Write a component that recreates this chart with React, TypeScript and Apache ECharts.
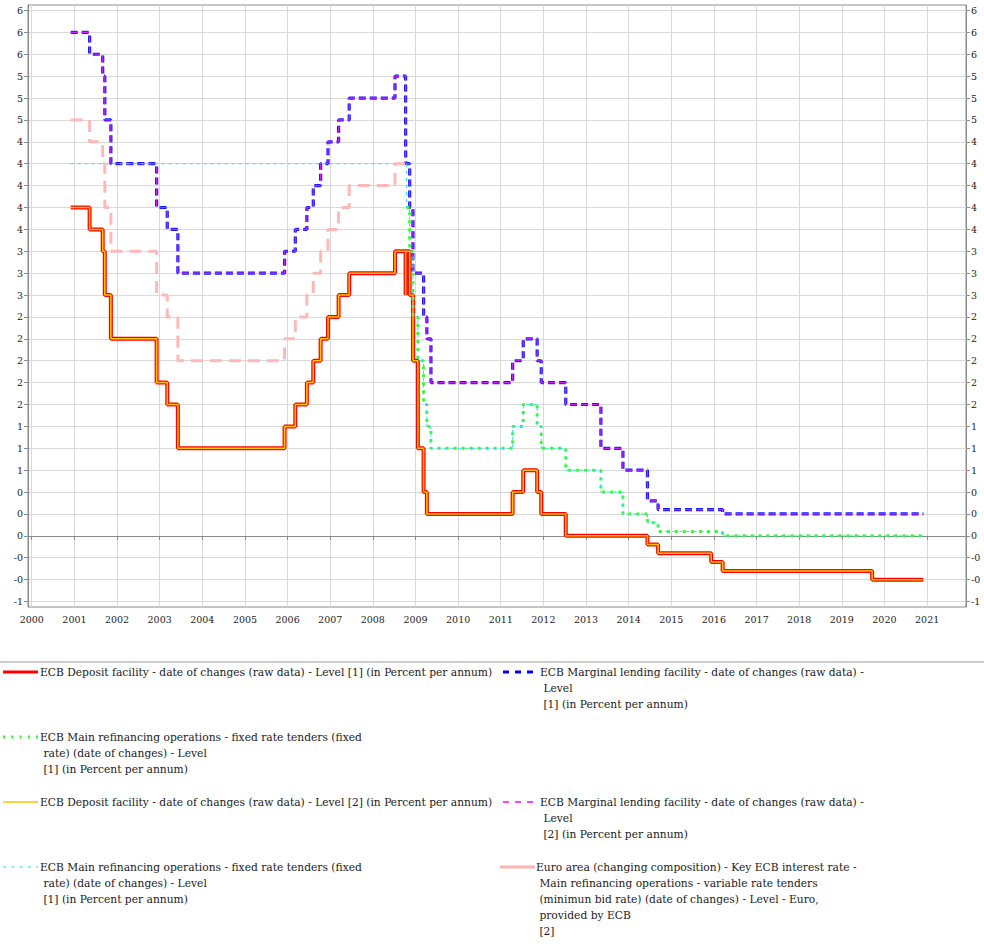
import { useEffect, useRef } from 'react';
import * as echarts from 'echarts';

// ---- Data (dates of changes, percent per annum) ----
const DEPOSIT_DATES = [
  '2000-11-30', '2001-05-11', '2001-08-31', '2001-09-18', '2001-11-09', '2002-12-06', '2003-03-07',
  '2003-06-06', '2005-12-06', '2006-03-08', '2006-06-15', '2006-08-09', '2006-10-11', '2006-12-13',
  '2007-03-14', '2007-06-13', '2008-07-09', '2008-10-08', '2008-10-09', '2008-11-12', '2008-12-10',
  '2009-01-21', '2009-03-11', '2009-04-08', '2011-04-13', '2011-07-13', '2011-11-09', '2011-12-14',
  '2012-07-11', '2014-06-11', '2014-09-10', '2015-12-09', '2016-03-16', '2019-09-18', '2020-11-30',
];
const DEPOSIT_RATES = [
  3.75, 3.5, 3.25, 2.75, 2.25, 1.75, 1.5,
  1.0, 1.25, 1.5, 1.75, 2.0, 2.25, 2.5,
  2.75, 3.0, 3.25, 2.75, 3.25, 2.75, 2.0,
  1.0, 0.5, 0.25, 0.5, 0.75, 0.5, 0.25,
  0.0, -0.1, -0.2, -0.3, -0.4, -0.5, -0.5,
];

const MLF_DATES = [
  '2000-11-30', '2001-05-11', '2001-08-31', '2001-09-18', '2001-11-09', '2002-12-06', '2003-03-07',
  '2003-06-06', '2005-12-06', '2006-03-08', '2006-06-15', '2006-08-09', '2006-10-11', '2006-12-13',
  '2007-03-14', '2007-06-13', '2008-07-09', '2008-10-08', '2008-10-09', '2008-11-12', '2008-12-10',
  '2009-01-21', '2009-03-11', '2009-04-08', '2009-05-13', '2011-04-13', '2011-07-13', '2011-11-09',
  '2011-12-14', '2012-07-11', '2013-05-08', '2013-11-13', '2014-06-11', '2014-09-10', '2015-12-09',
  '2016-03-16', '2019-09-18', '2020-11-30',
];
const MLF_RATES = [
  5.75, 5.5, 5.25, 4.75, 4.25, 3.75, 3.5,
  3.0, 3.25, 3.5, 3.75, 4.0, 4.25, 4.5,
  4.75, 5.0, 5.25, 4.75, 4.25, 3.75, 3.0,
  3.0, 2.5, 2.25, 1.75, 2.0, 2.25, 2.0,
  1.75, 1.5, 1.0, 0.75, 0.4, 0.3, 0.3,
  0.25, 0.25, 0.25,
];

const MRO_FIXED_DATES = [
  '2008-10-15', '2008-11-12', '2008-12-10', '2009-01-21', '2009-03-11', '2009-04-08', '2009-05-13',
  '2011-04-13', '2011-07-13', '2011-11-09', '2011-12-14', '2012-07-11', '2013-05-08', '2013-11-13',
  '2014-06-11', '2014-09-10', '2016-03-16', '2020-11-30',
];
const MRO_FIXED_RATES = [
  3.75, 3.25, 2.5, 2.0, 1.5, 1.25, 1.0,
  1.25, 1.5, 1.25, 1.0, 0.75, 0.5, 0.25,
  0.15, 0.05, 0.0, 0.0,
];
// Level [2] of the fixed rate series carries the last fixed rate (June 2000) into the window
const MRO_FIXED_L2_START_DATES = ['2000-11-30'];
const MRO_FIXED_L2_START_RATES = [4.25];

const MRO_VARIABLE_DATES = [
  '2000-11-30', '2001-05-11', '2001-08-31', '2001-09-18', '2001-11-09', '2002-12-06', '2003-03-07',
  '2003-06-06', '2005-12-06', '2006-03-08', '2006-06-15', '2006-08-09', '2006-10-11', '2006-12-13',
  '2007-03-14', '2007-06-13', '2008-07-09', '2008-10-14',
];
const MRO_VARIABLE_RATES = [
  4.75, 4.5, 4.25, 3.75, 3.25, 2.75, 2.5,
  2.0, 2.25, 2.5, 2.75, 3.0, 3.25, 3.5,
  3.75, 4.0, 4.25, 4.25,
];

const YEAR_TICKS = [
  2000, 2001, 2002, 2003, 2004, 2005, 2006, 2007, 2008, 2009, 2010,
  2011, 2012, 2013, 2014, 2015, 2016, 2017, 2018, 2019, 2020, 2021,
];
const RATE_TICKS = [
  -0.75, -0.5, -0.25, 0, 0.25, 0.5, 0.75, 1, 1.25, 1.5, 1.75, 2, 2.25, 2.5,
  2.75, 3, 3.25, 3.5, 3.75, 4, 4.25, 4.5, 4.75, 5, 5.25, 5.5, 5.75, 6,
];
const X_MIN_DATE = '1999-11-30';
const X_MAX_DATE = '2021-11-30';
const Y_MIN = -0.8125;
const Y_MAX = 6.0625;

const LEGEND_NAMES = [
  'ECB Deposit facility - date of changes (raw data) - Level [1] (in Percent per annum)',
  'ECB Marginal lending facility - date of changes (raw data) -\n Level\n [1] (in Percent per annum)',
  'ECB Main refinancing operations - fixed rate tenders (fixed\n rate) (date of changes) - Level\n [1] (in Percent per annum)',
  'ECB Deposit facility - date of changes (raw data) - Level [2] (in Percent per annum)',
  'ECB Marginal lending facility - date of changes (raw data) -\n Level\n [2] (in Percent per annum)',
  'ECB Main refinancing operations - fixed rate tenders (fixed\n rate) (date of changes) - Level\n [1] (in Percent per annum)',
  'Euro area (changing composition) - Key ECB interest rate -\n Main refinancing operations - variable rate tenders\n (minimun bid rate) (date of changes) - Level - Euro,\n provided by ECB\n [2]',
];

const FONT = 'DejaVu Serif';

function ts(d: string): number {
  const [y, m, day] = d.split('-').map(Number);
  return Date.UTC(y, m - 1, day);
}
function pairs(dates: string[], rates: number[]): [number, number][] {
  return dates.map((d, i) => [ts(d), rates[i]]);
}
function roundHalfEven(x: number): number {
  const f = Math.floor(x);
  const d = x - f;
  if (d > 0.5) return f + 1;
  if (d < 0.5) return f;
  return f % 2 === 0 ? f : f + 1;
}
function fmtRate(v: number): string {
  const r = Math.abs(roundHalfEven(v));
  return (v < 0 ? '-' : '') + String(r);
}

export default function App() {
  const ref = useRef<HTMLDivElement>(null);

  useEffect(() => {
    if (!ref.current) return;
    const chart = echarts.init(ref.current, undefined, { renderer: 'svg' });

    const yearTs = YEAR_TICKS.map((y) => Date.UTC(y, 0, 1));

    const yAxisBase = {
      type: 'value',
      min: Y_MIN,
      max: Y_MAX,
      axisLine: { show: true, lineStyle: { color: '#8a8a8a', width: 1 } },
      axisTick: {
        show: true,
        length: 4,
        lineStyle: { color: '#8a8a8a' },
        customValues: RATE_TICKS,
      },
      axisLabel: {
        customValues: RATE_TICKS,
        formatter: (v: number) => fmtRate(v),
        color: '#222',
        fontFamily: FONT,
        fontSize: 9.5,
        margin: 5,
      },
    };

    const legendGraphics: any[] = [
      {
        type: 'line',
        shape: { x1: 0, y1: 662, x2: 984, y2: 662 },
        style: { stroke: '#9a9a9a', lineWidth: 1 },
      },
    ];
    const legendItems = [
      { x: 3, y: 672, tx: 40, line: { stroke: '#ff0000', lineWidth: 3 } },
      { x: 503, y: 672, tx: 540, line: { stroke: '#0000ff', lineWidth: 3, lineDash: [6, 6] } },
      { x: 3, y: 737, tx: 40, line: { stroke: '#22ff22', lineWidth: 3, lineDash: [2, 6.3] } },
      { x: 3, y: 802, tx: 40, line: { stroke: '#ffc400', lineWidth: 1.5 } },
      { x: 503, y: 802, tx: 540, line: { stroke: '#ff00ff', lineWidth: 1.5, lineDash: [6, 6] } },
      { x: 3, y: 867, tx: 40, line: { stroke: '#00e5ff', lineWidth: 1, lineDash: [3, 5.3] } },
      { x: 500, y: 867, tx: 536, line: { stroke: '#ffb3b3', lineWidth: 3 } },
    ];
    legendItems.forEach((it, i) => {
      legendGraphics.push({
        type: 'line',
        shape: { x1: it.x, y1: it.y, x2: it.x + 35, y2: it.y },
        style: { ...it.line, fill: null },
      });
      legendGraphics.push({
        type: 'text',
        x: it.tx,
        y: it.y - 8,
        style: {
          text: LEGEND_NAMES[i],
          fill: '#1a1a1a',
          font: `10.7px "${FONT}"`,
          lineHeight: 16,
          verticalAlign: 'top',
          align: 'left',
        },
      });
    });

    const option: any = {
      animation: false,
      backgroundColor: '#ffffff',
      grid: {
        left: 28,
        right: 18,
        top: 5,
        bottom: 341,
        show: true,
        borderColor: '#8a8a8a',
        borderWidth: 1,
        containLabel: false,
        outerBoundsMode: 'none',
      },
      xAxis: {
        type: 'value',
        min: ts(X_MIN_DATE),
        max: ts(X_MAX_DATE),
        axisLine: { show: true, lineStyle: { color: '#8a8a8a', width: 1 } },
        axisTick: {
          show: true,
          length: 4,
          lineStyle: { color: '#8a8a8a' },
          customValues: yearTs,
        },
        axisLabel: {
          customValues: yearTs,
          formatter: (v: number) => String(new Date(v).getUTCFullYear()),
          color: '#222',
          fontFamily: FONT,
          fontSize: 9.5,
          margin: 7,
        },
        splitLine: { show: true, lineStyle: { color: '#d9d9d9', width: 1 } },
      },
      yAxis: [
        {
          ...yAxisBase,
          position: 'left',
          splitLine: { show: true, lineStyle: { color: '#d9d9d9', width: 1 } },
        },
        { ...yAxisBase, position: 'right', splitLine: { show: false } },
      ],
      series: [
        {
          name: 'deposit1',
          type: 'line',
          step: 'end',
          showSymbol: false,
          silent: true,
          data: pairs(DEPOSIT_DATES, DEPOSIT_RATES),
          lineStyle: { color: '#ff0000', width: 4 },
        },
        {
          name: 'mlf1',
          type: 'line',
          step: 'end',
          showSymbol: false,
          silent: true,
          data: pairs(MLF_DATES, MLF_RATES),
          lineStyle: { color: '#1a1aff', width: 3.2, type: [7, 4] },
        },
        {
          name: 'mro1',
          type: 'line',
          step: 'end',
          showSymbol: false,
          silent: true,
          data: pairs(MRO_FIXED_DATES, MRO_FIXED_RATES),
          lineStyle: { color: '#33ff33', width: 3, type: [3, 5] },
        },
        {
          name: 'deposit2',
          type: 'line',
          step: 'end',
          showSymbol: false,
          silent: true,
          data: pairs(DEPOSIT_DATES, DEPOSIT_RATES),
          lineStyle: { color: '#ffc400', width: 1.5 },
        },
        {
          name: 'mlf2',
          type: 'line',
          step: 'end',
          showSymbol: false,
          silent: true,
          data: pairs(MLF_DATES, MLF_RATES),
          lineStyle: { color: '#cc22ff', width: 1.2, type: [7, 4] },
        },
        {
          name: 'mro2',
          type: 'line',
          step: 'end',
          showSymbol: false,
          silent: true,
          data: [
            ...pairs(MRO_FIXED_L2_START_DATES, MRO_FIXED_L2_START_RATES),
            ...pairs(MRO_FIXED_DATES, MRO_FIXED_RATES),
          ],
          lineStyle: { color: '#22e0ff', width: 1, type: [3, 4] },
        },
        {
          name: 'mroVariable',
          type: 'line',
          step: 'end',
          showSymbol: false,
          silent: true,
          data: pairs(MRO_VARIABLE_DATES, MRO_VARIABLE_RATES),
          lineStyle: { color: '#ffb8b8', width: 3, type: [12, 7] },
        },
      ],
      graphic: legendGraphics,
    };

    chart.setOption(option);
    return () => chart.dispose();
  }, []);

  return (
    <div
      ref={ref}
      style={{ position: 'absolute', left: 0, top: 0, width: 984, height: 948, background: '#fff' }}
    />
  );
}
